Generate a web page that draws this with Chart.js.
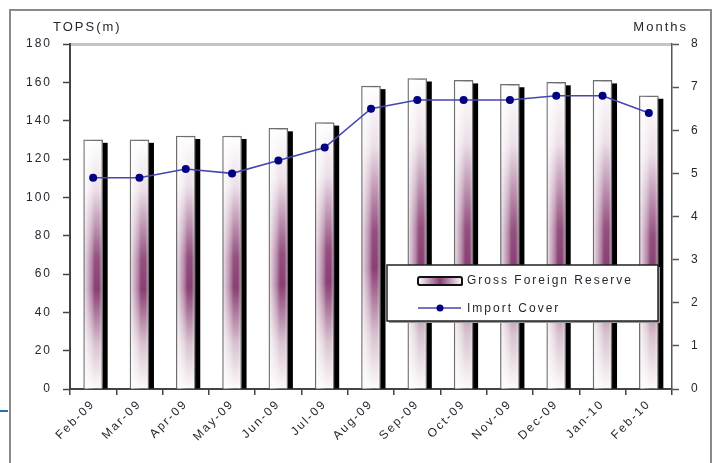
<!DOCTYPE html>
<html>
<head>
<meta charset="utf-8">
<script src="https://cdn.jsdelivr.net/npm/chart.js@4"></script>
<style>
  html, body { margin: 0; padding: 0; background: #fff; }
  #wrap { width: 712px; height: 463px; position: relative; }
</style>
</head>
<body>
<div id="wrap"><canvas id="chart"></canvas></div>
<script>
// values
const months = ['Feb-09', 'Mar-09', 'Apr-09', 'May-09', 'Jun-09', 'Jul-09', 'Aug-09',
                'Sep-09', 'Oct-09', 'Nov-09', 'Dec-09', 'Jan-10', 'Feb-10'];
const grossReserve = [130, 130, 132, 132, 136, 139, 158, 162, 161, 159, 160, 161, 153];
const importCover = [4.9, 4.9, 5.1, 5.0, 5.3, 5.6, 6.5, 6.7, 6.7, 6.7, 6.8, 6.8, 6.4];
const leftTitle = 'TOPS(m)';
const rightTitle = 'Months';

const FONT = "'Liberation Sans', Arial, sans-serif";
const TEXT = '#262630';
const PURPLE = '#8a3f74';
const LINE = '#4646b0';
const MARK = '#000080';

Chart.defaults.font.family = FONT;
Chart.defaults.font.size = 12;
Chart.defaults.color = TEXT;

// per-bar vertical gradient, white at top and bottom, purple in the middle
function barFill(c) {
  const chart = c.chart;
  if (!chart.chartArea) return PURPLE;
  const ys = chart.scales.y;
  const top = ys.getPixelForValue(c.raw);
  const bot = ys.getPixelForValue(0);
  const g = chart.ctx.createLinearGradient(0, top, 0, bot);
  g.addColorStop(0, '#ffffff');
  g.addColorStop(0.2, '#ecdfe8');
  g.addColorStop(0.48, '#93507f');
  g.addColorStop(0.6, PURPLE);
  g.addColorStop(0.82, '#d8c2cf');
  g.addColorStop(1, '#fcfafb');
  return g;
}

// text in the picture is wide, so spread the letters a bit
const spacing = {
  id: 'spacing',
  beforeUpdate(chart) { chart.ctx.letterSpacing = '2px'; },
  beforeDraw(chart) { chart.ctx.letterSpacing = '2px'; }
};

// black drop shadow behind each bar, light sheen over the left side
const barShade = {
  id: 'barShade',
  beforeDatasetDraw(chart, args) {
    if (args.meta.type !== 'bar') return;
    const ctx = chart.ctx;
    ctx.save();
    ctx.fillStyle = '#000';
    args.meta.data.forEach(el => {
      ctx.fillRect(el.x - el.width / 2 + 5, el.y + 3, el.width, el.base - el.y - 3);
    });
    ctx.restore();
  },
  afterDatasetDraw(chart, args) {
    if (args.meta.type !== 'bar') return;
    const ctx = chart.ctx;
    ctx.save();
    args.meta.data.forEach(el => {
      const x0 = el.x - el.width / 2 + 1, x1 = el.x + el.width / 2 - 1;
      const g = ctx.createLinearGradient(x0, 0, x1, 0);
      g.addColorStop(0, 'rgba(255,255,255,0.8)');
      g.addColorStop(0.4, 'rgba(255,255,255,0.35)');
      g.addColorStop(0.6, 'rgba(255,255,255,0)');
      g.addColorStop(0.85, 'rgba(255,255,255,0)');
      g.addColorStop(1, 'rgba(255,255,255,0.4)');
      ctx.fillStyle = g;
      ctx.fillRect(x0, el.y + 1, x1 - x0, el.base - el.y - 1);
    });
    ctx.restore();
  }
};

// frame, axis titles and the boxed legend
const decor = {
  id: 'decor',
  afterDraw(chart) {
    const ctx = chart.ctx;
    ctx.save();
    ctx.letterSpacing = '2px';

    ctx.strokeStyle = '#8a8a8a';
    ctx.lineWidth = 2;
    ctx.beginPath();
    ctx.moveTo(10, 463); ctx.lineTo(10, 10); ctx.lineTo(711, 10); ctx.lineTo(711, 463);
    ctx.stroke();
    ctx.strokeStyle = '#2a6fb5';
    ctx.beginPath(); ctx.moveTo(0, 411); ctx.lineTo(8, 411); ctx.stroke();

    ctx.fillStyle = TEXT;
    ctx.font = '13px ' + FONT;
    ctx.textBaseline = 'middle';
    ctx.textAlign = 'left';
    ctx.fillText(leftTitle, 53, 27);
    ctx.textAlign = 'right';
    ctx.fillText(rightTitle, 688, 27);

    // legend box
    const bx = 387, by = 265, bw = 271, bh = 56;
    ctx.fillStyle = '#9a9a9a';
    ctx.fillRect(bx + 2, by + 2, bw, bh);
    ctx.fillStyle = '#fff';
    ctx.fillRect(bx, by, bw, bh);
    ctx.strokeStyle = '#222';
    ctx.lineWidth = 1.5;
    ctx.strokeRect(bx, by, bw, bh);

    const ds = chart.data.datasets;
    // bar swatch
    const sg = ctx.createLinearGradient(418, 0, 462, 0);
    sg.addColorStop(0, '#ffffff');
    sg.addColorStop(0.5, PURPLE);
    sg.addColorStop(1, '#ffffff');
    ctx.fillStyle = '#000';
    ctx.beginPath(); ctx.roundRect(419, 278, 44, 8, 2); ctx.fill();
    ctx.fillStyle = sg;
    ctx.strokeStyle = '#111';
    ctx.lineWidth = 2;
    ctx.beginPath(); ctx.roundRect(418, 277, 44, 8, 2); ctx.fill(); ctx.stroke();
    // line swatch
    ctx.strokeStyle = LINE;
    ctx.lineWidth = 1.5;
    ctx.beginPath(); ctx.moveTo(418, 308); ctx.lineTo(461, 308); ctx.stroke();
    ctx.fillStyle = MARK;
    ctx.beginPath(); ctx.arc(440, 308, 3.5, 0, Math.PI * 2); ctx.fill();

    ctx.fillStyle = TEXT;
    ctx.font = '12px ' + FONT;
    ctx.textAlign = 'left';
    ctx.fillText(ds[0].label, 467, 281);
    ctx.fillText(ds[1].label, 467, 309);
    ctx.restore();
  }
};

new Chart(document.getElementById('chart'), {
  type: 'bar',
  data: {
    labels: months,
    datasets: [
      {
        type: 'bar',
        label: 'Gross Foreign Reserve',
        data: grossReserve,
        yAxisID: 'y',
        order: 1,
        backgroundColor: barFill,
        borderColor: '#6e6e6e',
        borderWidth: 1.5,
        borderSkipped: 'bottom',
        barThickness: 19
      },
      {
        type: 'line',
        label: 'Import Cover',
        data: importCover,
        yAxisID: 'y1',
        order: 0,
        borderColor: LINE,
        borderWidth: 1.6,
        pointStyle: 'circle',
        pointRadius: 4,
        pointBackgroundColor: MARK,
        pointBorderColor: MARK,
        pointBorderWidth: 0,
        tension: 0
      }
    ]
  },
  options: {
    responsive: true,
    maintainAspectRatio: false,
    animation: false,
    layout: { padding: { top: 44, left: 0, right: 0, bottom: 0 } },
    plugins: {
      legend: { display: false },
      tooltip: { enabled: false }
    },
    scales: {
      x: {
        grid: { offset: true, drawOnChartArea: false, tickLength: 6, color: '#444', lineWidth: 1.5 },
        border: { color: '#444', width: 2 },
        ticks: { minRotation: 45, maxRotation: 45, padding: 2, color: TEXT, font: { size: 12 } },
        afterFit(s) { s.height = 74; }
      },
      y: {
        position: 'left',
        min: 0,
        max: 180,
        ticks: { stepSize: 20, padding: 11, color: TEXT, font: { size: 12 } },
        grid: {
          color: c => (c.tick && c.tick.value === 180 ? '#c4c4c4' : 'rgba(0,0,0,0)'),
          lineWidth: c => (c.tick && c.tick.value === 180 ? 3 : 1),
          tickColor: '#444',
          tickWidth: 1.5,
          tickLength: 7
        },
        border: { color: '#444', width: 2 },
        afterFit(s) { s.width = 70; }
      },
      y1: {
        position: 'right',
        min: 0,
        max: 8,
        ticks: { stepSize: 1, padding: 12, color: TEXT, font: { size: 12 } },
        grid: { drawOnChartArea: false, tickColor: '#555', tickWidth: 1.5, tickLength: 7 },
        border: { color: '#555', width: 1.5 },
        afterFit(s) { s.width = 40; }
      }
    }
  },
  plugins: [spacing, barShade, decor]
});
</script>
</body>
</html>
